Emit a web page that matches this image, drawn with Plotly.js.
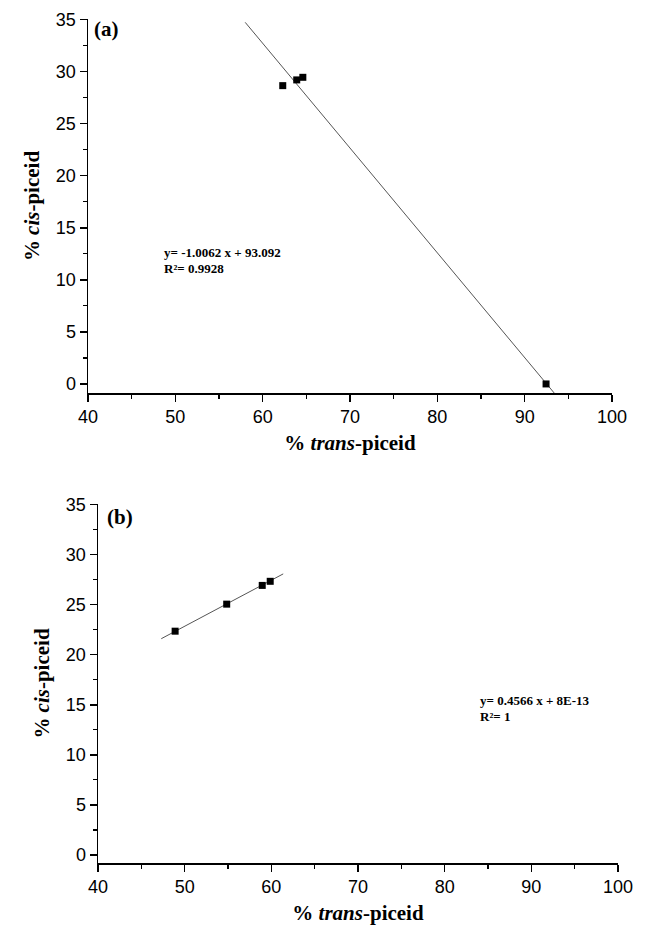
<!DOCTYPE html>
<html>
<head>
<meta charset="utf-8">
<script src="https://cdn.plot.ly/plotly-3.0.1.min.js"></script>
<style>html,body{margin:0;padding:0;background:#fff;}#chart{width:645px;height:931px;}</style>
</head>
<body>
<div id="chart"></div>
<script>
// Panel (a) data
const transA = [62.3, 63.9, 64.6, 92.45];
const cisA = [28.65, 29.2, 29.45, 0.0];
const fitA_x = [58.0, 93.38];
const fitA_y = [34.73, -0.87];
const eqA = "y= -1.0062 x + 93.092";
const r2A = "R²= 0.9928";

// Panel (b) data
const transB = [48.9, 54.85, 58.95, 59.87];
const cisB = [22.35, 25.05, 26.92, 27.33];
const fitB_x = [47.3, 61.37];
const fitB_y = [21.6, 28.07];
const eqB = "y= 0.4566 x + 8E-13";
const r2B = "R²= 1";

const xTicks = [40, 50, 60, 70, 80, 90, 100];
const yTicks = [0, 5, 10, 15, 20, 25, 30, 35];

const W = 645, H = 931;
const serif = "Liberation Serif, Times New Roman, serif";
const sans = "Liberation Sans, Arial, sans-serif";

const traces = [
  {x: fitA_x, y: fitA_y, xaxis: 'x', yaxis: 'y', mode: 'lines', line: {color: '#555', width: 1}, hoverinfo: 'skip'},
  {x: transA, y: cisA, xaxis: 'x', yaxis: 'y', mode: 'markers', marker: {symbol: 'square', size: 7, color: '#000'}},
  {x: fitB_x, y: fitB_y, xaxis: 'x2', yaxis: 'y2', mode: 'lines', line: {color: '#555', width: 1}, hoverinfo: 'skip'},
  {x: transB, y: cisB, xaxis: 'x2', yaxis: 'y2', mode: 'markers', marker: {symbol: 'square', size: 7, color: '#000'}}
];

function xax(domain, anchor) {
  return {
    domain: domain, anchor: anchor, range: [40, 100],
    tickvals: xTicks, ticktext: xTicks.map(String),
    ticks: 'outside', ticklen: 7, tickwidth: 1.5, tickcolor: '#000',
    minor: {ticks: 'outside', ticklen: 4, tickwidth: 1.2, tickcolor: '#000', dtick: 5, tick0: 0},
    showline: true, linecolor: '#000', linewidth: 1.5, mirror: false,
    showgrid: false, zeroline: false,
    tickfont: {family: sans, size: 18, color: '#000'},
    title: {text: '<b>% <i>trans</i>-piceid</b>', font: {family: serif, size: 21, color: '#000'}, standoff: 9}
  };
}
function yax(domain, anchor, ymin) {
  return {
    domain: domain, anchor: anchor, range: [ymin, 35.05],
    tickvals: yTicks, ticktext: yTicks.map(String),
    ticks: 'outside', ticklen: 7, tickwidth: 1.5, tickcolor: '#000',
    minor: {ticks: 'outside', ticklen: 4, tickwidth: 1.2, tickcolor: '#000', dtick: 2.5, tick0: 0},
    showline: true, linecolor: '#000', linewidth: 1.5, mirror: false,
    showgrid: false, zeroline: false,
    tickfont: {family: sans, size: 18, color: '#000'},
    title: {text: '<b>% <i>cis</i>-piceid</b>', font: {family: serif, size: 21, color: '#000'}, standoff: 10}
  };
}

const layout = {
  width: W, height: H,
  margin: {l: 0, r: 0, t: 0, b: 0},
  paper_bgcolor: '#fff', plot_bgcolor: '#fff',
  showlegend: false,
  xaxis: xax([88 / W, 612 / W], 'y'),
  yaxis: yax([1 - 393 / H, 1 - 19 / H], 'x', -0.87),
  xaxis2: xax([98 / W, 618 / W], 'y2'),
  yaxis2: yax([1 - 863 / H, 1 - 504 / H], 'x2', -0.8),
  annotations: [
    {xref: 'paper', yref: 'paper', x: 92 / W, y: 1 - 29 / H, xanchor: 'left', yanchor: 'middle', showarrow: false,
     text: '<b>(a)</b>', font: {family: serif, size: 21, color: '#000'}},
    {xref: 'paper', yref: 'paper', x: 105 / W, y: 1 - 517 / H, xanchor: 'left', yanchor: 'middle', showarrow: false,
     text: '<b>(b)</b>', font: {family: serif, size: 21, color: '#000'}},
    {xref: 'paper', yref: 'paper', x: 162 / W, y: 1 - 252 / H, xanchor: 'left', yanchor: 'middle', showarrow: false, align: 'left',
     text: '<b>' + eqA + '</b>', font: {family: serif, size: 13, color: '#000'}},
    {xref: 'paper', yref: 'paper', x: 162 / W, y: 1 - 268 / H, xanchor: 'left', yanchor: 'middle', showarrow: false, align: 'left',
     text: '<b>' + r2A + '</b>', font: {family: serif, size: 13, color: '#000'}},
    {xref: 'paper', yref: 'paper', x: 478 / W, y: 1 - 700 / H, xanchor: 'left', yanchor: 'middle', showarrow: false, align: 'left',
     text: '<b>' + eqB + '</b>', font: {family: serif, size: 13, color: '#000'}},
    {xref: 'paper', yref: 'paper', x: 478 / W, y: 1 - 716 / H, xanchor: 'left', yanchor: 'middle', showarrow: false, align: 'left',
     text: '<b>' + r2B + '</b>', font: {family: serif, size: 13, color: '#000'}}
  ]
};

Plotly.newPlot('chart', traces, layout, {displayModeBar: false, staticPlot: true});
</script>
</body>
</html>
